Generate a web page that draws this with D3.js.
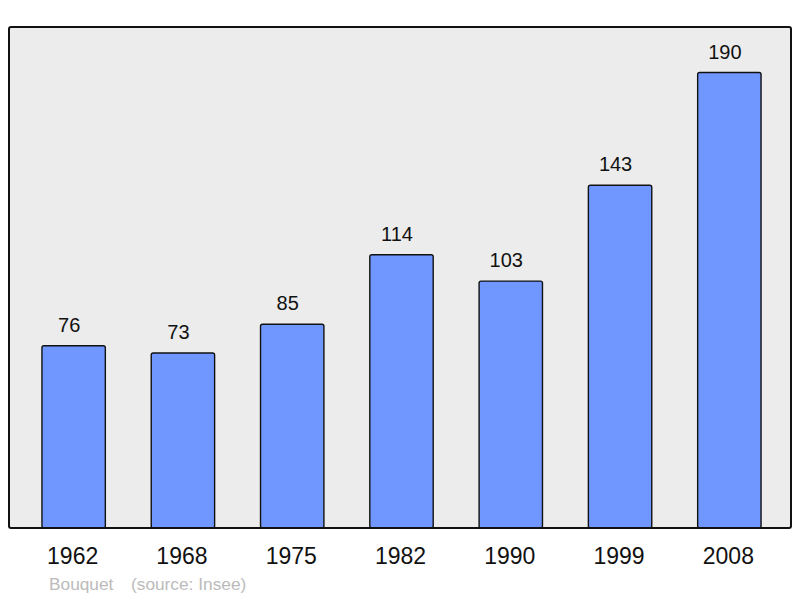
<!DOCTYPE html>
<html>
<head>
<meta charset="utf-8">
<script src="https://cdn.jsdelivr.net/npm/d3@7"></script>
<style>
  html, body { margin: 0; padding: 0; background: #ffffff; }
  svg { display: block; }
  text { font-family: "Liberation Sans", Arial, sans-serif; }
</style>
</head>
<body>
<svg id="chart" width="800" height="598"></svg>
<script>
const years = ["1962", "1968", "1975", "1982", "1990", "1999", "2008"];
const population = [76, 73, 85, 114, 103, 143, 190];
const commune = "Bouquet";
const sourceText = "(source: Insee)";

const svg = d3.select("#chart");
const frame = { left: 9, top: 27, right: 791, bottom: 528 };

const x = d3.scaleBand()
  .domain(years)
  .range([19, 784])
  .paddingInner(0.42)
  .paddingOuter(0.21);

const y = d3.scaleLinear()
  .domain([0, d3.max(population) * 1.1])
  .range([frame.bottom, frame.top]);

// plot background
svg.append("rect")
  .attr("x", frame.left)
  .attr("y", frame.top)
  .attr("width", frame.right - frame.left)
  .attr("height", frame.bottom - frame.top)
  .attr("rx", 2)
  .attr("fill", "#ececec")
  .attr("stroke", "none");

const data = years.map((yr, i) => ({ year: yr, value: population[i] }));

svg.selectAll("rect.bar")
  .data(data)
  .join("rect")
  .attr("class", "bar")
  .attr("x", d => x(d.year))
  .attr("y", d => y(d.value))
  .attr("width", x.bandwidth())
  .attr("height", d => y(0) - y(d.value))
  .attr("rx", 2)
  .attr("fill", "#7097ff")
  .attr("stroke", "#111")
  .attr("stroke-width", 1.4);

svg.selectAll("text.val")
  .data(data)
  .join("text")
  .attr("class", "val")
  .attr("x", d => x(d.year) + x.bandwidth() / 2 - 4.5)
  .attr("y", d => y(d.value) - 14)
  .attr("text-anchor", "middle")
  .attr("font-size", 20)
  .attr("fill", "#111")
  .text(d => d.value);

// frame border drawn on top
svg.append("rect")
  .attr("x", frame.left)
  .attr("y", frame.top)
  .attr("width", frame.right - frame.left)
  .attr("height", frame.bottom - frame.top)
  .attr("rx", 2)
  .attr("fill", "none")
  .attr("stroke", "#111")
  .attr("stroke-width", 2);

// x axis labels
const xAxis = d3.axisBottom(x).tickSize(0).tickPadding(0);
const gx = svg.append("g")
  .attr("transform", `translate(0, ${frame.bottom})`)
  .call(xAxis);
gx.select(".domain").remove();
gx.selectAll("text")
  .attr("dy", null)
  .attr("y", 36)
  .attr("x", -1)
  .attr("font-size", 23)
  .attr("font-family", "Liberation Sans, Arial, sans-serif")
  .attr("fill", "#111");

svg.append("text")
  .attr("x", 49)
  .attr("y", 590)
  .attr("font-size", 17.3)
  .attr("fill", "#bbbbbb")
  .text(commune);

svg.append("text")
  .attr("x", 131)
  .attr("y", 590)
  .attr("font-size", 17.3)
  .attr("fill", "#bbbbbb")
  .text(sourceText);
</script>
</body>
</html>
